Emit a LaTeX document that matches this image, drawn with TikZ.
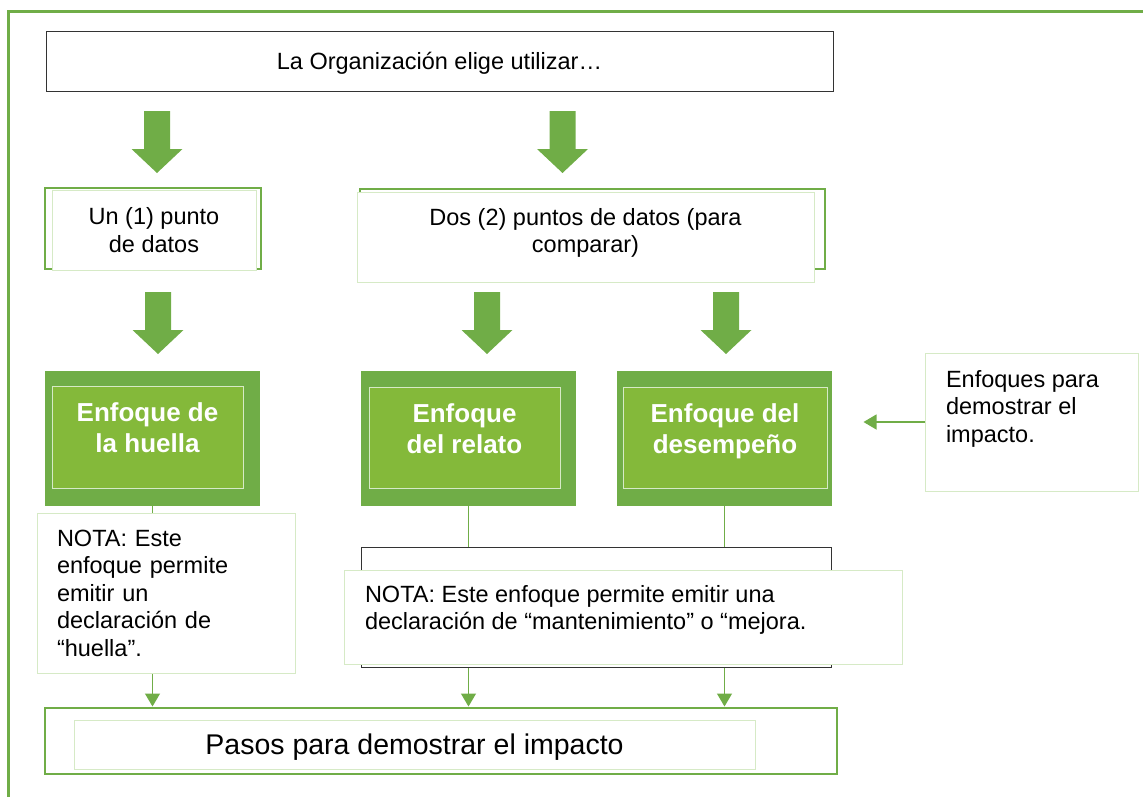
\documentclass[tikz,border=0pt]{standalone}
\usepackage{fontspec}
\setmainfont{Liberation Sans}
\usetikzlibrary{arrows.meta}
\pgfdeclarelayer{background}
\pgfsetlayers{background,main}
\definecolor{gdark}{RGB}{112,173,71}
\definecolor{gmid}{RGB}{132,185,58}
\definecolor{gpale}{RGB}{214,234,198}
\newcommand\mypb[4]{\parbox[c][#1pt][t]{#2pt}{\vspace*{#3pt}#4}}
\begin{document}
\begin{tikzpicture}[x=1pt,y=-1pt,
  every node/.style={inner sep=0pt, outer sep=0pt},
  txt/.style={font=\fontsize{23.5}{27.5}\selectfont},
  plainbox/.style={draw=black!80, line width=0.9pt, fill=white},
  gframe/.style={draw=gdark, line width=2.5pt},
  palebox/.style={draw=gpale, line width=1pt, fill=white},
  dkbox/.style={fill=gdark},
  ltbox/.style={fill=gmid, draw=gpale, line width=1pt, text=white, font=\bfseries\fontsize{26}{31}\selectfont},
  conn/.style={draw=gdark, line width=1.2pt, -{Triangle[length=13pt,width=15pt]}, shorten >=1.5pt},
  blockarrow/.pic={\fill[gdark] (-13,0) -- (13,0) -- (13,38) -- (25.5,38) -- (0,62) -- (-25.5,38) -- (-13,38) -- cycle;}
]
\useasboundingbox (0,0) rectangle (1143,796);
\begin{scope}
\clip (0,0) rectangle (1143,796);
\draw[gdark, line width=3pt] (8,820) -- (8,11) -- (1170,11);
\end{scope}

% top
\node[plainbox, txt, text depth=0pt, minimum width=787pt, minimum height=60pt] (top) at (439.5,61) {La Organización elige utilizar…};

% first level boxes
\node[gframe, minimum width=216pt, minimum height=81pt] (unf) at (153,228.5) {};
\node[palebox, txt, align=center, minimum width=204pt, minimum height=80pt] (un) at (154,230) {Un (1) punto\\de datos};

\node[gframe, minimum width=465pt, minimum height=80pt] (dosf) at (592.5,229) {};
\node[palebox, txt, minimum width=457pt, minimum height=90pt] (dos) at (585.5,237) {\mypb{90}{457}{16}{\centering Dos (2) puntos de datos (para\\comparar)}};

% block arrows
\pic at (157,111) {blockarrow};
\pic at (562.5,111) {blockarrow};
\pic at (158,292) {blockarrow};
\pic at (487,292) {blockarrow};
\pic at (726,292) {blockarrow};

% approach boxes
\node[dkbox, minimum width=215pt, minimum height=135pt] (huella) at (152.5,438.5) {};
\node[ltbox] (huellain) at (147.5,437) {\mypb{102}{191}{17}{\centering Enfoque de\\la huella}};

\node[dkbox, minimum width=215pt, minimum height=135pt] (relato) at (468.5,438.5) {};
\node[ltbox] (relatoin) at (464.5,437.5) {\mypb{101}{191}{17}{\centering Enfoque\\del relato}};

\node[dkbox, minimum width=215pt, minimum height=135pt] (desemp) at (724.5,438.5) {};
\node[ltbox] (desempin) at (725,437.5) {\mypb{101}{204}{17}{\centering Enfoque del\\desempeño}};

% notes
\node[palebox, txt, align=left, text width=218pt, minimum height=160pt, inner xsep=20pt] (notel) at (166,593) {NOTA: Este\\enfoque permite\\emitir un\\declaración de\\“huella”.};

\node[plainbox, minimum width=470pt, minimum height=120pt] (midbox) at (596,607) {};
\node[palebox, txt, inner xsep=21pt] (notem) at (623,617) {\mypb{94}{516}{15}{\raggedright NOTA: Este enfoque permite emitir una\\declaración de “mantenimiento” o “mejora.}};

\node[palebox, txt, inner xsep=21pt] (enf) at (1031.5,422) {\mypb{138}{171}{17}{\raggedright Enfoques para\\demostrar el\\impacto.}};

% bottom
\node[gframe, minimum width=792pt, minimum height=66pt] (pasosf) at (441,741) {};
\node[palebox, font=\fontsize{28.5}{32}\selectfont, text depth=0pt, minimum width=681pt, minimum height=49pt] (pasos) at (414.5,744.5) {Pasos para demostrar el impacto};

% connectors
\coordinate (enftip) at (862,422);
\draw[conn] (enf.west) -- (enftip);
\begin{pgfonlayer}{background}
\draw[conn] (huella.south) -- (huella.south |- pasosf.north);
\draw[conn] (relato.south) -- (relato.south |- pasosf.north);
\draw[conn] (desemp.south) -- (desemp.south |- pasosf.north);
\end{pgfonlayer}
\end{tikzpicture}
\end{document}
